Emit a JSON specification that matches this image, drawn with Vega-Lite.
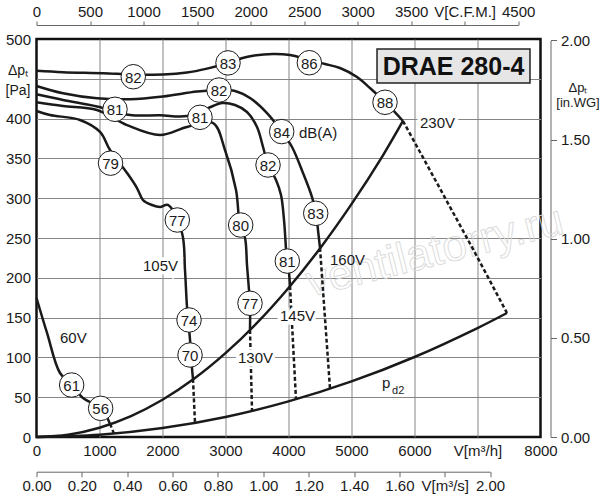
{
  "$schema": "https://vega.github.io/schema/vega-lite/v6.json",
  "width": 504,
  "height": 398,
  "autosize": {"type": "none"},
  "padding": {"left": 36.5, "top": 39, "right": 59.5, "bottom": 63},
  "background": "white",
  "config": {
    "font": "Liberation Sans",
    "view": {"stroke": "#111111", "strokeWidth": 2.5},
    "axis": {
      "labelFont": "Liberation Sans",
      "labelFontSize": 15,
      "labelColor": "#1a1a1a",
      "labelFlush": false,
      "labelOverlap": false,
      "labelBound": false,
      "titleFont": "Liberation Sans",
      "titleFontWeight": "normal",
      "titleColor": "#1a1a1a"
    }
  },
  "datasets": {
    "curves": [
      {"s": "230V", "x": 0, "y": 460}, {"s": "230V", "x": 419, "y": 458.3}, {"s": "230V", "x": 1056, "y": 457},
      {"s": "230V", "x": 1532, "y": 455.5}, {"s": "230V", "x": 2008, "y": 455.3}, {"s": "230V", "x": 2389, "y": 457.8},
      {"s": "230V", "x": 2707, "y": 462.8}, {"s": "230V", "x": 3040, "y": 469.9}, {"s": "230V", "x": 3257, "y": 475.8},
      {"s": "230V", "x": 3437, "y": 479}, {"s": "230V", "x": 3754, "y": 481.2}, {"s": "230V", "x": 4024, "y": 479.9},
      {"s": "230V", "x": 4325, "y": 473.6}, {"s": "230V", "x": 4579, "y": 468.6}, {"s": "230V", "x": 4817, "y": 463.6},
      {"s": "230V", "x": 5087, "y": 452.3}, {"s": "230V", "x": 5293, "y": 438.5}, {"s": "230V", "x": 5532, "y": 420.9},
      {"s": "230V", "x": 5817, "y": 397},
      {"s": "160V", "x": 0, "y": 441}, {"s": "160V", "x": 421, "y": 431.8}, {"s": "160V", "x": 960, "y": 425.5},
      {"s": "160V", "x": 1484, "y": 424.3}, {"s": "160V", "x": 2008, "y": 427.8}, {"s": "160V", "x": 2548, "y": 434},
      {"s": "160V", "x": 2897, "y": 436}, {"s": "160V", "x": 3151, "y": 434.7}, {"s": "160V", "x": 3389, "y": 425.9},
      {"s": "160V", "x": 3659, "y": 407}, {"s": "160V", "x": 3897, "y": 383.2}, {"s": "160V", "x": 4056, "y": 364.3},
      {"s": "160V", "x": 4230, "y": 331.7}, {"s": "160V", "x": 4373, "y": 301.5}, {"s": "160V", "x": 4437, "y": 281.4},
      {"s": "160V", "x": 4468, "y": 260.1}, {"s": "160V", "x": 4500, "y": 237.5},
      {"s": "145V", "x": 0, "y": 430.5}, {"s": "145V", "x": 421, "y": 423.4}, {"s": "145V", "x": 960, "y": 415.3},
      {"s": "145V", "x": 1484, "y": 404.5}, {"s": "145V", "x": 1961, "y": 404.2}, {"s": "145V", "x": 2389, "y": 403.3},
      {"s": "145V", "x": 2802, "y": 415.8}, {"s": "145V", "x": 2945, "y": 419.6}, {"s": "145V", "x": 3151, "y": 417.1},
      {"s": "145V", "x": 3341, "y": 408.3}, {"s": "145V", "x": 3500, "y": 389.5}, {"s": "145V", "x": 3596, "y": 364.3},
      {"s": "145V", "x": 3675, "y": 341.7}, {"s": "145V", "x": 3802, "y": 322.9}, {"s": "145V", "x": 3881, "y": 304},
      {"s": "145V", "x": 3929, "y": 272.6}, {"s": "145V", "x": 3976, "y": 221.1}, {"s": "145V", "x": 4008, "y": 206},
      {"s": "145V", "x": 4024, "y": 189.7},
      {"s": "130V", "x": 0, "y": 420.5}, {"s": "130V", "x": 421, "y": 415.8}, {"s": "130V", "x": 960, "y": 410.8},
      {"s": "130V", "x": 1437, "y": 391.9}, {"s": "130V", "x": 1961, "y": 379.4}, {"s": "130V", "x": 2389, "y": 389.5},
      {"s": "130V", "x": 2802, "y": 394.5}, {"s": "130V", "x": 2992, "y": 360.6}, {"s": "130V", "x": 3167, "y": 310.3},
      {"s": "130V", "x": 3230, "y": 266.3}, {"s": "130V", "x": 3310, "y": 250}, {"s": "130V", "x": 3341, "y": 216.1},
      {"s": "130V", "x": 3373, "y": 184.7}, {"s": "130V", "x": 3389, "y": 168.3}, {"s": "130V", "x": 3389, "y": 134.4},
      {"s": "105V", "x": 0, "y": 409.6}, {"s": "105V", "x": 214, "y": 404.5}, {"s": "105V", "x": 690, "y": 398.3},
      {"s": "105V", "x": 1008, "y": 383.2}, {"s": "105V", "x": 1167, "y": 360.6}, {"s": "105V", "x": 1437, "y": 331.7},
      {"s": "105V", "x": 1595, "y": 312.8}, {"s": "105V", "x": 1691, "y": 297.7}, {"s": "105V", "x": 1833, "y": 291.5},
      {"s": "105V", "x": 1961, "y": 289}, {"s": "105V", "x": 2087, "y": 291.5}, {"s": "105V", "x": 2310, "y": 256.3},
      {"s": "105V", "x": 2357, "y": 209.8}, {"s": "105V", "x": 2389, "y": 163.3}, {"s": "105V", "x": 2437, "y": 121.9},
      {"s": "105V", "x": 2468, "y": 86.7}, {"s": "105V", "x": 2484, "y": 73},
      {"s": "60V", "x": 0, "y": 174.6}, {"s": "60V", "x": 167, "y": 130.7}, {"s": "60V", "x": 373, "y": 80.4},
      {"s": "60V", "x": 563, "y": 65.3}, {"s": "60V", "x": 738, "y": 49}, {"s": "60V", "x": 1024, "y": 36.4},
      {"s": "60V", "x": 1167, "y": 16.5}
    ],
    "dashed": [
      {"s": "60V", "x": 1167, "y": 16.5}, {"s": "60V", "x": 1230, "y": 4.2},
      {"s": "105V", "x": 2484, "y": 73}, {"s": "105V", "x": 2516, "y": 17.7},
      {"s": "130V", "x": 3389, "y": 134.4}, {"s": "130V", "x": 3421, "y": 32.7},
      {"s": "145V", "x": 4024, "y": 189.7}, {"s": "145V", "x": 4119, "y": 47.4},
      {"s": "160V", "x": 4500, "y": 237.5}, {"s": "160V", "x": 4659, "y": 60.6},
      {"s": "230V", "x": 5817, "y": 397}, {"s": "230V", "x": 6405, "y": 312}, {"s": "230V", "x": 6929, "y": 236},
      {"s": "230V", "x": 7468, "y": 155.8}
    ],
    "system": [
      {"s": "upper", "x": 0, "y": 0}, {"s": "upper", "x": 500, "y": 2.9}, {"s": "upper", "x": 1000, "y": 11.7},
      {"s": "upper", "x": 1500, "y": 26.3}, {"s": "upper", "x": 2000, "y": 46.8}, {"s": "upper", "x": 2500, "y": 73.1},
      {"s": "upper", "x": 3000, "y": 105.3}, {"s": "upper", "x": 3500, "y": 143.3}, {"s": "upper", "x": 4000, "y": 187.2},
      {"s": "upper", "x": 4500, "y": 236.9}, {"s": "upper", "x": 5000, "y": 292.5}, {"s": "upper", "x": 5500, "y": 353.9},
      {"s": "upper", "x": 5817, "y": 397},
      {"s": "pd2", "x": 0, "y": 0}, {"s": "pd2", "x": 1000, "y": 2.8}, {"s": "pd2", "x": 2000, "y": 11.2},
      {"s": "pd2", "x": 3000, "y": 25.1}, {"s": "pd2", "x": 4000, "y": 44.7}, {"s": "pd2", "x": 5000, "y": 69.8},
      {"s": "pd2", "x": 6000, "y": 100.5}, {"s": "pd2", "x": 7000, "y": 136.9}, {"s": "pd2", "x": 7468, "y": 155.8}
    ],
    "db": [
      {"n": "82", "x": 1536, "y": 452.6}, {"n": "83", "x": 3040, "y": 470}, {"n": "86", "x": 4331, "y": 470.2},
      {"n": "88", "x": 5532, "y": 420.5}, {"n": "82", "x": 2897, "y": 435.9}, {"n": "81", "x": 1246, "y": 411.7},
      {"n": "81", "x": 2595, "y": 401.6}, {"n": "84", "x": 3892, "y": 383.7}, {"n": "79", "x": 1175, "y": 344},
      {"n": "82", "x": 3675, "y": 341.7}, {"n": "77", "x": 2235, "y": 272.6}, {"n": "80", "x": 3241, "y": 266.3},
      {"n": "83", "x": 4432, "y": 281}, {"n": "81", "x": 3981, "y": 221}, {"n": "74", "x": 2421, "y": 147},
      {"n": "77", "x": 3389, "y": 168}, {"n": "70", "x": 2437, "y": 103}, {"n": "61", "x": 558, "y": 65.3},
      {"n": "56", "x": 1018, "y": 36}
    ],
    "notes": [
      {"k": "v", "t": "230V", "x": 6087, "y": 394.5}, {"k": "v", "t": "160V", "x": 4659, "y": 222.4},
      {"k": "v", "t": "145V", "x": 3865, "y": 152}, {"k": "v", "t": "130V", "x": 3198, "y": 99.2},
      {"k": "v", "t": "105V", "x": 1690, "y": 214.8}, {"k": "v", "t": "60V", "x": 373, "y": 124.4},
      {"k": "v", "t": "dB(A)", "x": 4167, "y": 381.9}, {"k": "v", "t": "p", "x": 5484, "y": 67.8},
      {"k": "sub", "t": "d2", "x": 5643, "y": 58},
      {"k": "title", "t": "DRAE 280-4", "x": 6619, "y": 466},
      {"k": "wm", "t": "ventilatorry.ru", "x": 6325, "y": 232}
    ],
    "box": [
      {"x": 5405, "x2": 7833, "y": 487.4, "y2": 444.7}
    ]
  },
  "layer": [
    {
      "encoding": {
        "x": {
          "field": "x",
          "type": "quantitative",
          "scale": {"domain": [0, 8000], "nice": false, "zero": false},
          "axis": {
            "orient": "bottom",
            "values": [0, 1000, 2000, 3000, 4000, 5000, 6000, 7000, 8000],
            "format": "d",
            "labelExpr": "datum.value == 7000 ? 'V[m³/h]' : datum.label",
            "grid": true,
            "gridColor": "#858585",
            "gridOpacity": {"condition": {"test": "datum.value == 0 || datum.value == 8000", "value": 0}, "value": 1},
            "ticks": false,
            "domain": false,
            "labelPadding": 6,
            "title": null
          }
        },
        "y": {
          "field": "y",
          "type": "quantitative",
          "scale": {"domain": [0, 500], "nice": false, "zero": false},
          "axis": {
            "orient": "left",
            "values": [0, 50, 100, 150, 200, 250, 300, 350, 400, 450, 500],
            "labelExpr": "datum.value == 450 ? '' : datum.label",
            "grid": true,
            "gridColor": "#858585",
            "gridOpacity": {"condition": {"test": "datum.value == 0 || datum.value == 500", "value": 0}, "value": 1},
            "ticks": false,
            "domain": false,
            "labelPadding": 6,
            "title": ["Δpₜ", "[Pa]"],
            "titleAngle": 0,
            "titleAlign": "center",
            "titleBaseline": "alphabetic",
            "titleX": -19,
            "titleY": 35,
            "titleFontSize": 14,
            "titleLineHeight": 20
          }
        }
      },
      "layer": [
        {
          "data": {"name": "notes"},
          "transform": [{"filter": "datum.k == 'wm'"}],
          "mark": {"type": "text", "align": "center", "baseline": "middle", "fontSize": 44, "angle": -14, "fill": null, "fillOpacity": 0, "stroke": "#d9d9d9", "strokeWidth": 0.9},
          "encoding": {"text": {"field": "t"}}
        },
        {
          "data": {"name": "system"},
          "mark": {"type": "line", "interpolate": "catmull-rom", "color": "#1a1a1a", "strokeWidth": 2.5},
          "encoding": {"detail": {"field": "s"}, "order": {"value": null}}
        },
        {
          "data": {"name": "dashed"},
          "mark": {"type": "line", "interpolate": "linear", "color": "#1a1a1a", "strokeWidth": 2.5, "strokeDash": [4, 2.5]},
          "encoding": {"detail": {"field": "s"}, "order": {"value": null}}
        },
        {
          "data": {"name": "curves"},
          "mark": {"type": "line", "interpolate": "catmull-rom", "color": "#1a1a1a", "strokeWidth": 2.5},
          "encoding": {"detail": {"field": "s"}, "order": {"value": null}}
        },
        {
          "data": {"name": "notes"},
          "transform": [{"filter": "indexof(['230V','145V','130V','105V'], datum.t) >= 0"}],
          "mark": {"type": "text", "align": "left", "baseline": "middle", "fontSize": 15, "fill": "white", "stroke": "white", "strokeWidth": 7},
          "encoding": {"text": {"field": "t"}}
        },
        {
          "data": {"name": "notes"},
          "transform": [{"filter": "datum.k == 'v'"}],
          "mark": {"type": "text", "align": "left", "baseline": "middle", "fontSize": 15, "color": "#1a1a1a"},
          "encoding": {"text": {"field": "t"}}
        },
        {
          "data": {"name": "notes"},
          "transform": [{"filter": "datum.k == 'sub'"}],
          "mark": {"type": "text", "align": "left", "baseline": "middle", "fontSize": 11, "color": "#1a1a1a"},
          "encoding": {"text": {"field": "t"}}
        },
        {
          "data": {"name": "db"},
          "mark": {"type": "point", "shape": "circle", "filled": true, "fill": "white", "stroke": "#1a1a1a", "strokeWidth": 1, "size": 600, "opacity": 1}
        },
        {
          "data": {"name": "db"},
          "mark": {"type": "text", "align": "center", "baseline": "middle", "fontSize": 15, "color": "#1a1a1a", "dy": 1},
          "encoding": {"text": {"field": "n"}}
        },
        {
          "data": {"name": "box"},
          "mark": {"type": "rect", "fill": "#e6e6e6", "stroke": "#222222", "strokeWidth": 1.5},
          "encoding": {
            "x2": {"field": "x2"},
            "y2": {"field": "y2"}
          }
        },
        {
          "data": {"name": "notes"},
          "transform": [{"filter": "datum.k == 'title'"}],
          "mark": {"type": "text", "align": "center", "baseline": "middle", "fontSize": 25, "fontWeight": "bold", "color": "#111111", "dy": 1},
          "encoding": {"text": {"field": "t"}}
        }
      ]
    },
    {
      "data": {"values": [{"c": 0}, {"c": 4500}]},
      "mark": {"type": "point", "opacity": 0},
      "encoding": {
        "x": {
          "field": "c",
          "type": "quantitative",
          "scale": {"domain": [0, 4500], "range": [0, 481.7], "nice": false, "zero": false},
          "axis": {
            "orient": "top",
            "offset": 14,
            "values": [0, 500, 1000, 1500, 2000, 2500, 3000, 3500, 4000, 4500],
            "format": "d",
            "labelExpr": "datum.value == 4000 ? 'V[C.F.M.]' : datum.label",
            "grid": false,
            "tickSize": 4,
            "tickColor": "#666666",
            "domainColor": "#666666",
            "labelPadding": 2,
            "title": null
          }
        }
      }
    },
    {
      "data": {"values": [{"q": 0}, {"q": 2}]},
      "mark": {"type": "point", "opacity": 0},
      "encoding": {
        "x": {
          "field": "q",
          "type": "quantitative",
          "scale": {"domain": [0, 2], "range": [0, 453.6], "nice": false, "zero": false},
          "axis": {
            "orient": "bottom",
            "offset": 34.7,
            "values": [0, 0.2, 0.4, 0.6, 0.8, 1, 1.2, 1.4, 1.6, 1.8, 2],
            "format": ".2f",
            "labelExpr": "datum.value == 1.8 ? 'V[m³/s]' : datum.label",
            "grid": false,
            "tickSize": 5,
            "tickColor": "#666666",
            "domainColor": "#666666",
            "labelPadding": 2,
            "title": null
          }
        }
      }
    },
    {
      "data": {"values": [{"p": 0}, {"p": 2}]},
      "mark": {"type": "point", "opacity": 0},
      "encoding": {
        "y": {
          "field": "p",
          "type": "quantitative",
          "scale": {"domain": [0, 2], "range": [398, 1.4], "nice": false, "zero": false},
          "axis": {
            "orient": "right",
            "offset": 10,
            "values": [0, 0.5, 1, 1.5, 2],
            "format": ".2f",
            "grid": false,
            "tickSize": 6,
            "tickColor": "#666666",
            "domainColor": "#666666",
            "labelPadding": 4,
            "title": ["Δpₜ", "[in.WG]"],
            "titleAngle": 0,
            "titleAlign": "center",
            "titleBaseline": "alphabetic",
            "titleX": 27,
            "titleY": 52,
            "titleFontSize": 13,
            "titleLineHeight": 15
          }
        }
      }
    }
  ],
  "resolve": {
    "scale": {"x": "independent", "y": "independent"},
    "axis": {"x": "independent", "y": "independent"}
  }
}
